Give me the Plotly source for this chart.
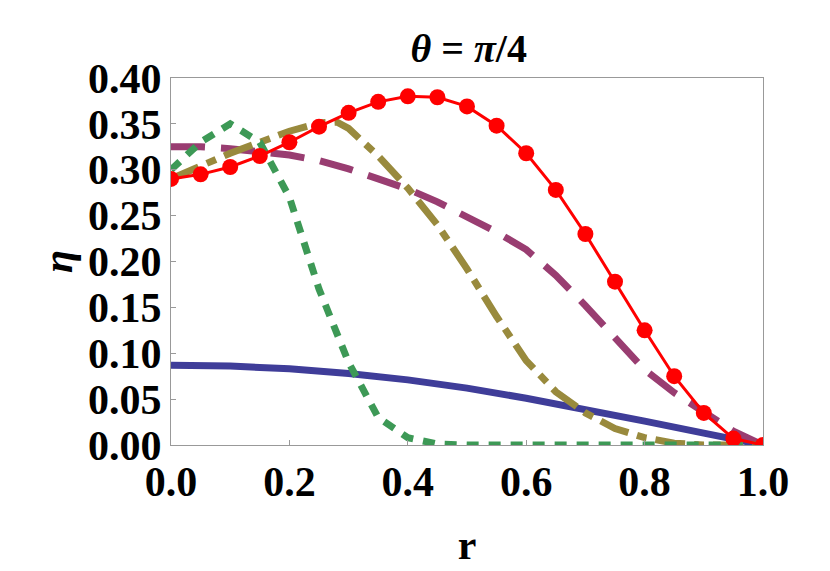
import plotly.graph_objects as go

r_red = [0,0.05,0.1,0.15,0.2,0.25,0.3,0.35,0.4,0.45,0.5,0.55,0.6,0.65,0.7,0.75,0.8,0.85,0.9,0.95,1.0]
eta_red = [0.29,0.295,0.303,0.315,0.33,0.347,0.362,0.374,0.38,0.379,0.369,0.348,0.318,0.278,0.23,0.178,0.125,0.075,0.035,0.007,0.0]
r_blue = [0,0.1,0.2,0.3,0.4,0.5,0.6,0.7,0.8,0.9,1.0]
eta_blue = [0.087,0.086,0.083,0.078,0.071,0.062,0.051,0.039,0.026,0.013,0.0]
r_purple = [0,0.05,0.1,0.15,0.2,0.25,0.3,0.35,0.4,0.45,0.5,0.55,0.6,0.65,0.7,0.75,0.8,0.85,0.9,0.95,1.0]
eta_purple = [0.325,0.325,0.323,0.32,0.316,0.31,0.301,0.29,0.279,0.265,0.249,0.232,0.213,0.185,0.152,0.117,0.082,0.057,0.035,0.015,0.0]
r_olive = [0,0.05,0.1,0.15,0.2,0.25,0.28,0.3,0.35,0.4,0.45,0.5,0.55,0.6,0.65,0.7,0.75,0.8,0.85,0.9,1.0]
eta_olive = [0.29,0.305,0.318,0.33,0.342,0.351,0.352,0.345,0.315,0.28,0.24,0.192,0.14,0.092,0.058,0.035,0.018,0.008,0.002,0.0,0.0]
r_green = [0,0.05,0.1,0.15,0.2,0.25,0.3,0.35,0.4,0.45,0.5,0.6,0.7,0.8,0.9,1.0]
eta_green = [0.3,0.33,0.35,0.33,0.27,0.17,0.09,0.03,0.008,0.001,0.0,0.0,0.0,0.0,0.0,0.0]

fig = go.Figure()
fig.add_trace(go.Scatter(x=r_blue, y=eta_blue, mode="lines", line=dict(color="#3f3d99", width=7)))
fig.add_trace(go.Scatter(x=r_purple, y=eta_purple, mode="lines", line=dict(color="#993d71", width=7, dash="34px,16px")))
fig.add_trace(go.Scatter(x=r_olive, y=eta_olive, mode="lines", line=dict(color="#998a3d", width=7, dash="30px,9px,10px,9px")))
fig.add_trace(go.Scatter(x=r_green, y=eta_green, mode="lines", line=dict(color="#3d9956", width=7, dash="12px,10px")))
fig.add_trace(go.Scatter(x=r_red, y=eta_red, mode="lines+markers", line=dict(color="red", width=3),
                         marker=dict(color="red", size=16)))

font = dict(family="Liberation Serif", size=42, color="black")
fig.update_layout(
    width=830, height=571, showlegend=False, plot_bgcolor="white", paper_bgcolor="white",
    margin=dict(l=163, r=75, t=70, b=134),
    title=dict(text="<b><i>θ</i> = <i>π</i>/4</b>", x=0.555, y=0.955, xanchor="center",
               font=dict(family="Liberation Serif", size=40, color="black")),
    font=font,
)
fig.update_xaxes(range=[0,1], tickvals=[0,0.2,0.4,0.6,0.8,1.0], ticktext=["<b>%.1f</b>"%v for v in [0,0.2,0.4,0.6,0.8,1.0]],
                 showgrid=False, zeroline=False, showline=True, mirror=True, linecolor="#999", ticks="inside",
                 tickcolor="#999", title=dict(text="<b>r</b>", font=font, standoff=25))
yv = [i*0.05 for i in range(9)]
fig.update_yaxes(range=[0,0.4], tickvals=yv, ticktext=["<b>%.2f</b>"%v for v in yv],
                 showgrid=False, zeroline=False, showline=True, mirror=True, linecolor="#999", ticks="inside",
                 tickcolor="#999", title=dict(text="<b><i>η</i></b>", font=font, standoff=2))
fig.write_html("out.html")
